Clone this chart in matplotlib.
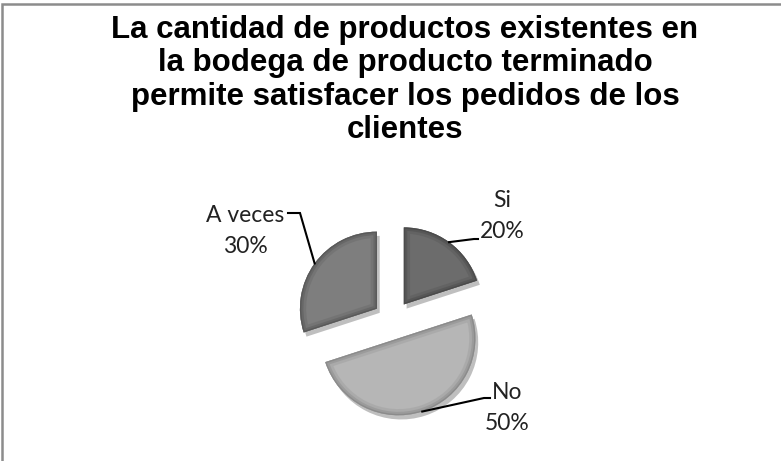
import numpy as np
import matplotlib
matplotlib.use("Agg")
import matplotlib.pyplot as plt
import matplotlib.patheffects as pe
from matplotlib.patches import Rectangle, Wedge

# data
categories = ["Si", "No", "A veces"]
values = [20, 50, 30]
colors = ["#6c6c6c", "#b6b6b6", "#7e7e7e"]
edge_colors = ["#4a4a4a", "#8a8a8a", "#585858"]

title = ("La cantidad de productos existentes en\n"
         "la bodega de producto terminado\n"
         "permite satisfacer los pedidos de los\n"
         "clientes")

# label block centres and leader elbows (pixels, y from top)
label_pos = {"Si": (502, 216), "No": (507, 408), "A veces": (245, 231)}
elbow_pos = {"Si": (474, 239), "No": (484, 398), "A veces": (300, 213)}
text_end = {"Si": (478, 239), "No": (490, 398), "A veces": (288, 213)}

W, H = 781, 461
fig = plt.figure(figsize=(W / 100, H / 100), dpi=100)
ax = fig.add_axes([0, 0, 1, 1])

cx, cy, R = 392.5, H - 320, 77
# explode is applied in data units here
wedges, _ = ax.pie(values, colors=colors, startangle=90, counterclock=False,
                   explode=[0.25 * R] * 3, radius=R, center=(cx, cy),
                   wedgeprops=dict(edgecolor="none"), frame=True)

for w, ec in zip(wedges, edge_colors):
    w.set_path_effects([pe.SimplePatchShadow(offset=(2, -3), shadow_rgbFace="#000000", alpha=0.25),
                        pe.Normal()])
    # inner bevel: thick clipped edges
    for lw, a in [(9, 0.25), (5, 0.45), (2, 0.9)]:
        b = Wedge(w.center, w.r, w.theta1, w.theta2,
                  facecolor="none", edgecolor=ec, lw=lw, alpha=a)
        ax.add_patch(b)
        b.set_clip_path(w)

# labels with leader lines
total = sum(values)
for w, name, v in zip(wedges, categories, values):
    mid = np.deg2rad((w.theta1 + w.theta2) / 2)
    ax_pt = (w.center[0] + w.r * np.cos(mid), w.center[1] + w.r * np.sin(mid))
    ex, ey = elbow_pos[name]
    tx, ty = text_end[name]
    ax.plot([ax_pt[0], ex, tx], [ax_pt[1], H - ey, H - ty], color="black", lw=1.5,
            solid_joinstyle="miter")
    lx, ly = label_pos[name]
    ax.text(lx, H - ly, f"{name}\n{round(v * 100 / total)}%", ha="center", va="center",
            fontsize=16.5, family="Lato", color="#222222", linespacing=1.6)

ax.text(405, H - 80, title, ha="center", va="center", fontsize=22.5,
        family="Liberation Sans", fontweight="bold", linespacing=1.15)

ax.add_patch(Rectangle((2, -10), W + 20, H - 4 + 10, facecolor="none",
                       edgecolor="#8c8c8c", lw=1.8))

ax.set_xlim(0, W)
ax.set_ylim(0, H)
ax.set_aspect("equal")
ax.axis("off")

fig.savefig("out.png", dpi=100)
